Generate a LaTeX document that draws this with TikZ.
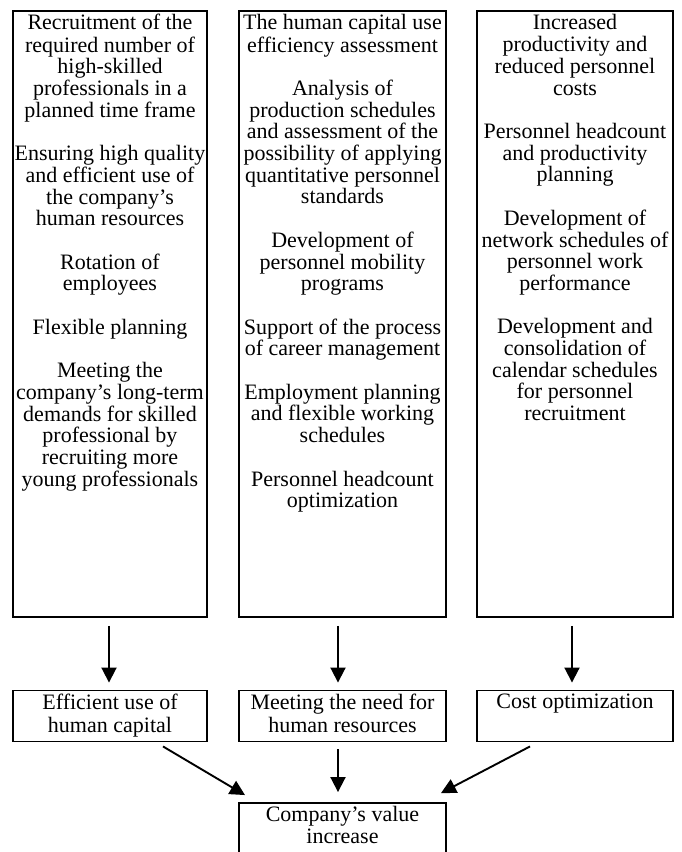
\documentclass[tikz,border=0pt]{standalone}
\usepackage{fontspec}
\setmainfont{Liberation Serif}
\usetikzlibrary{arrows.meta}
\begin{document}
\begin{tikzpicture}[x=1pt,y=-1pt,
  box/.style={draw, line width=1.9pt, rectangle, inner sep=0pt},
  txt/.style={anchor=north, inner sep=0pt, align=center, font=\fontsize{22}{21.7}\selectfont},
  arr/.style={line width=1.9pt, -{Triangle[length=15pt,width=15pt]}}]
\useasboundingbox (0,0) rectangle (681,852);
% top column boxes
\node[box, minimum width=194pt, minimum height=606pt] (Lt) at (110,314) {};
\node[box, minimum width=207pt, minimum height=606pt] (Mt) at (342.5,314) {};
\node[box, minimum width=196pt, minimum height=606pt] (Rt) at (575,314) {};
% middle row
\node[box, minimum width=194pt, minimum height=51pt] (Lm) at (110,716) {};
\node[box, minimum width=207pt, minimum height=51pt] (Mm) at (342.5,716) {};
\node[box, minimum width=196pt, minimum height=51pt] (Rm) at (575,716) {};
% bottom
\node[box, minimum width=207pt, minimum height=52pt] (B) at (342.5,829) {};
% texts
\node[txt] (Ltx) at ([yshift=-3.5pt]Lt.north) {\strut Recruitment of the\\required number of\\high-skilled\\professionals in a\\planned time frame\\[21.7pt]Ensuring high quality\\and efficient use of\\the company’s\\human resources\\[21.7pt]Rotation of\\employees\\[21.7pt]Flexible planning\\[21.7pt]Meeting the\\company’s long-term\\demands for skilled\\professional by\\recruiting more\\young professionals};
\node[txt] (Mtx) at ([yshift=-3.5pt]Mt.north) {\strut The human capital use\\efficiency assessment\\[21.7pt]Analysis of\\production schedules\\and assessment of the\\possibility of applying\\quantitative personnel\\standards\\[21.7pt]Development of\\personnel mobility\\programs\\[21.7pt]Support of the process\\of career management\\[21.7pt]Employment planning\\and flexible working\\schedules\\[21.7pt]Personnel headcount\\optimization};
\node[txt] (Rtx) at ([yshift=-3.5pt]Rt.north) {\strut Increased\\productivity and\\reduced personnel\\costs\\[21.7pt]Personnel headcount\\and productivity\\planning\\[21.7pt]Development of\\network schedules of\\personnel work\\performance\\[21.7pt]Development and\\consolidation of\\calendar schedules\\for personnel\\recruitment};
\node[txt] (Lmx) at ([yshift=-4pt]Lm.north) {\strut Efficient use of\\human capital};
\node[txt] (Mmx) at ([yshift=-4pt]Mm.north) {\strut Meeting the need for\\human resources};
\node[txt] (Rmx) at ([yshift=-4pt]Rm.north) {\strut Cost optimization};
\node[txt] (Bx) at ([yshift=-4pt]B.north) {\strut Company’s value\\increase};
% arrows
\draw[arr] ([xshift=-1pt,yshift=-8pt]Lt.south) -- ([xshift=-1pt,yshift=7pt]Lm.north);
\draw[arr] ([xshift=-4.5pt,yshift=-8pt]Mt.south) -- ([xshift=-4.5pt,yshift=7pt]Mm.north);
\draw[arr] ([xshift=-3pt,yshift=-8pt]Rt.south) -- ([xshift=-3pt,yshift=7pt]Rm.north);
\draw[arr] ([xshift=-4.5pt,yshift=-7pt]Mm.south) -- ([xshift=-4.5pt,yshift=10pt]B.north);
\draw[arr] ([xshift=53pt,yshift=-4pt]Lm.south) -- ([xshift=-97.5pt,yshift=7pt]B.north);
\draw[arr] ([xshift=-45pt,yshift=-4pt]Rm.south) -- ([xshift=98.5pt,yshift=9pt]B.north);
\end{tikzpicture}
\end{document}
